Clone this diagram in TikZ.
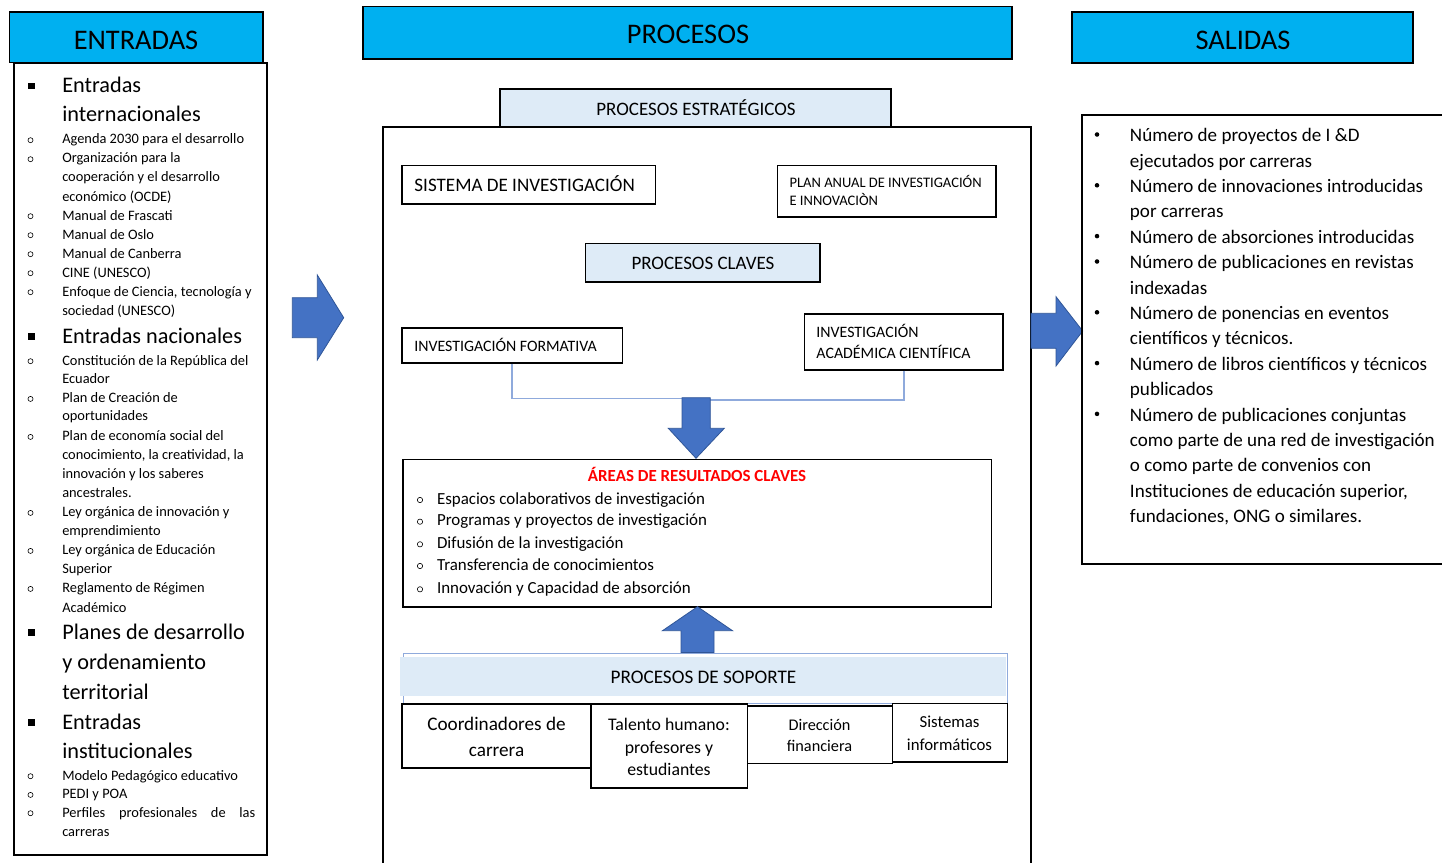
\documentclass[tikz,border=0pt]{standalone}
\usepackage{fontspec}
\setmainfont{Carlito}
\usetikzlibrary{fit}
\definecolor{hdrcyan}{HTML}{00B0F0}
\definecolor{lightb}{HTML}{DEEBF7}
\definecolor{arrblue}{HTML}{4472C4}
\definecolor{arredge}{HTML}{2F5597}
\definecolor{connblue}{HTML}{8FAADC}
\definecolor{titred}{HTML}{FF0000}
\newcommand\fsz[1]{\fontsize{#1}{#1}\selectfont}
\begin{document}
\begin{tikzpicture}[x=0.75pt,y=-0.75pt,
  bx/.style={draw=black, line width=1.2pt, inner sep=0pt},
  hdr/.style={bx, fill=hdrcyan},
  lbx/.style={bx, fill=lightb},
  tx/.style={inner sep=0pt, anchor=base west},
  tc/.style={inner sep=0pt, anchor=base},
  blockarrow/.style={fill=arrblue, draw=arredge, line width=0.6pt, line join=miter},
  conn/.style={draw=connblue, line width=0.9pt},
  obul/.style={draw=black, line width=0.45pt},
]
\useasboundingbox (0,0) rectangle (1442,863);

% ---------------- ENTRADAS ----------------
\node[bx, fit={(14,63)(267,855)}] (inbox) {};
\node[hdr, fit={(9.3,12)(262.7,62.7)}] (inhdr) {};
\node[tc, font=\fsz{21.3pt}] (inhdrt) at (136,49.3) {ENTRADAS};

\foreach \y/\t [count=\i] in {92.7/Entradas, 122/internacionales, 343/Entradas nacionales,
  639/Planes de desarrollo, 669/y ordenamiento, 699/territorial, 729/Entradas, 758/institucionales}
  \node[tx, font=\fsz{16.7pt}] (big\i) at (62,\y) {\t};
\foreach \y in {92.7,343,639,729}
  \fill (28.2,\y-9.8) rectangle (34.7,\y-3.3);

\foreach \y/\t [count=\i] in {144/Agenda 2030 para el desarrollo, 163/Organización para la,
  182/cooperación y el desarrollo, 201/económico (OCDE), 220/Manual de Frascati,
  239/Manual de Oslo, 258/Manual de Canberra, 277/CINE (UNESCO),
  296/{Enfoque de Ciencia, tecnología y}, 315/sociedad (UNESCO),
  365/Constitución de la República del, 383/Ecuador, 402.7/Plan de Creación de,
  420.7/oportunidades, 440.7/Plan de economía social del,
  459/{conocimiento, la creatividad, la}, 478.7/innovación y los saberes,
  497/ancestrales., 516.7/Ley orgánica de innovación y, 535/emprendimiento,
  554.7/Ley orgánica de Educación, 573/Superior, 592.7/Reglamento de Régimen,
  612/Académico, 780/Modelo Pedagógico educativo, 798.7/PEDI y POA, 836/carreras}
  \node[tx, font=\fsz{10.8pt}] (sm\i) at (62,\y) {\t};
\node[tx, font=\fsz{10.8pt}] (perf) at (62,817) {\makebox[144.75pt][s]{Perfiles profesionales de las}};
\foreach \y in {144,163,220,239,258,277,296,365,402.7,440.7,516.7,554.7,592.7,780,798.7,817}
  \draw[obul] (30.5,\y-3.8) circle[radius=1.9pt];

% ---------------- arrows between columns ----------------
\draw[blockarrow] (292.3,297.7) -- (317.3,297.7) -- (317.3,275) -- (343.7,317.7)
  -- (317.3,360) -- (317.3,337.7) -- (292.3,337.7) -- cycle;

% ---------------- PROCESOS ----------------
\node[bx, fit={(383,127)(1031,872)}] (procbox) {};
\node[hdr, fit={(362.7,6.7)(1012,59.3)}] (prochdr) {};
\node[tc, font=\fsz{21.3pt}] (prochdrt) at (688,43.3) {PROCESOS};

\node[lbx, fit={(500,89.3)(891,127)}] (pe) {};
\node[tc, font=\fsz{14.25pt}] (pet) at (696,116) {PROCESOS ESTRATÉGICOS};

\node[bx, fit={(402,165.7)(655.3,204)}] (sis) {};
\node[tx, font=\fsz{14.3pt}] (sist) at (414.2,191) {SISTEMA DE INVESTIGACIÓN};

\node[bx, fit={(777.6,165.7)(995.7,217)}] (plan) {};
\node[tx, font=\fsz{10.9pt}] (plant1) at (789.3,187.3) {PLAN ANUAL DE INVESTIGACIÓN};
\node[tx, font=\fsz{10.9pt}] (plant2) at (789.3,205.3) {E INNOVACIÒN};

\node[lbx, fit={(585.5,243.3)(819.7,281.7)}] (pc) {};
\node[tc, font=\fsz{14.25pt}] (pct) at (703,269.3) {PROCESOS CLAVES};

\node[bx, fit={(402,328)(622.4,363)}] (invf) {};
\node[tx, font=\fsz{11.9pt}] (invft) at (414,351.7) {INVESTIGACIÓN FORMATIVA};

\node[bx, fit={(804.5,314)(1002.7,369.7)}] (inva) {};
\node[tx, font=\fsz{11.9pt}] (invat1) at (816.2,337.3) {INVESTIGACIÓN};
\node[tx, font=\fsz{11.9pt}] (invat2) at (816.2,358.3) {ACADÉMICA CIENTÍFICA};

\coordinate (jl) at (512,398.3);
\coordinate (arrL) at (684,398.3);
\coordinate (jr) at (904,400);
\coordinate (arrR) at (708,400);
\draw[conn] (invf.south -| jl) |- (arrL);
\draw[conn] (inva.south -| jr) |- (arrR);

\draw[blockarrow] (682,397.7) -- (710.3,397.7) -- (710.3,428.3) -- (724.3,428.3)
  -- (696,458.3) -- (668.3,428.3) -- (682,428.3) -- cycle;

\node[bx, fit={(403,459.3)(991.5,606.7)}] (areas) {};
\node[tc, font=\fsz{12.7pt}\bfseries, text=titred] (areast) at (697,481.7) {ÁREAS DE RESULTADOS CLAVES};
\foreach \y/\t [count=\i] in {504/Espacios colaborativos de investigación,
  525.7/Programas y proyectos de investigación, 548.3/Difusión de la investigación,
  570/Transferencia de conocimientos, 593.3/Innovación y Capacidad de absorción}
  {\node[tx, font=\fsz{12.7pt}] (ar\i) at (436.8,\y) {\t};
   \draw[obul] (420,\y-4) circle[radius=2pt];}

\draw[blockarrow] (697.5,606.7) -- (732.5,630.7) -- (714,630.7) -- (714,652.5)
  -- (681,652.5) -- (681,630.7) -- (662.5,630.7) -- cycle;

% soporte band
\node[draw=connblue, line width=0.7pt, inner sep=0pt, fit={(403,653)(1007,703)}] (sopband) {};
\fill[lightb] (400,657) rectangle (1006,696);
\node[tc, font=\fsz{14.4pt}] (sopt) at (703.5,683.3) {PROCESOS DE SOPORTE};

\node[bx, fit={(402,704)(591,767.7)}] (coord) {};
\node[tc, font=\fsz{14.4pt}] (coordt1) at (496.5,730) {Coordinadores de};
\node[tc, font=\fsz{14.4pt}] (coordt2) at (496.5,756) {carrera};

\node[bx, fit={(591,704)(747.3,787.7)}] (tal) {};
\node[tc, font=\fsz{13.3pt}] (talt1) at (669,730) {Talento humano:};
\node[tc, font=\fsz{13.3pt}] (talt2) at (669,753.5) {profesores y};
\node[tc, font=\fsz{13.3pt}] (talt3) at (669,775.5) {estudiantes};

\node[bx, fit={(747.3,706)(892.3,763.3)}] (dir) {};
\node[tc, font=\fsz{12.2pt}] (dirt1) at (819.5,730.7) {Dirección};
\node[tc, font=\fsz{12.2pt}] (dirt2) at (819.5,751.7) {financiera};

\node[bx, fit={(892.3,703.3)(1007.3,761.7)}] (sisinf) {};
\node[tc, font=\fsz{12.6pt}] (sisinft1) at (949.5,727.3) {Sistemas};
\node[tc, font=\fsz{12.6pt}] (sisinft2) at (949.5,750) {informáticos};

% ---------------- arrow to SALIDAS ----------------
\draw[blockarrow] (1031,313.3) -- (1056,313.3) -- (1056,296.7) -- (1082.7,331)
  -- (1056,366) -- (1056,348.3) -- (1031,348.3) -- cycle;

% ---------------- SALIDAS ----------------
\node[bx, fit={(1082,115)(1452,564)}] (outbox) {};
\node[hdr, fit={(1072,12)(1413,63)}] (outhdr) {};
\node[tc, font=\fsz{21.3pt}] (outhdrt) at (1243,49.3) {SALIDAS};

\foreach \y/\t [count=\i] in {141.7/Número de proyectos de I \&D, 167.1/ejecutados por carreras,
  192.5/Número de innovaciones introducidas, 217.9/por carreras,
  243.3/Número de absorciones introducidas, 268.7/Número de publicaciones en revistas,
  294.1/indexadas, 319.5/Número de ponencias en eventos, 344.9/científicos y técnicos.,
  370.3/Número de libros científicos y técnicos, 395.7/publicados,
  421.1/Número de publicaciones conjuntas, 446.5/como parte de una red de investigación,
  471.9/o como parte de convenios con, 497.3/{Instituciones de educación superior,},
  522.7/{fundaciones, ONG o similares.}}
  \node[tx, font=\fsz{14.3pt}] (out\i) at (1129.7,\y) {\t};
\foreach \y in {141.7,192.5,243.3,268.7,319.5,370.3,421.1}
  \fill (1097,\y-7.2) circle[radius=1.7pt];
\end{tikzpicture}
\end{document}
